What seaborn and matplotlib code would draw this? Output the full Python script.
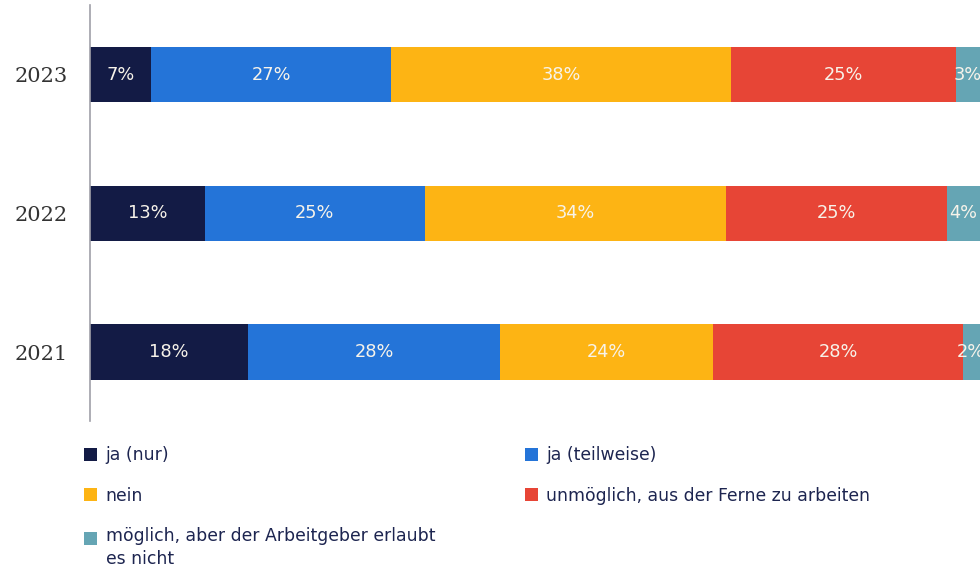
import matplotlib

matplotlib.use("Agg")
import matplotlib.pyplot as plt
import numpy as np
import pandas as pd
import seaborn as sns
from matplotlib.legend_handler import HandlerPatch
from matplotlib.patches import Patch, Rectangle

years = ["2023", "2022", "2021"]
categories = [
    "ja (nur)",
    "ja (teilweise)",
    "nein",
    "unmöglich, aus der Ferne zu arbeiten",
    "möglich, aber der Arbeitgeber erlaubt\nes nicht",
]
colors = ["#131b45", "#2474d8", "#fdb414", "#e74536", "#65a5b4"]

# segment widths (labels show the rounded values)
ja_nur = [6.85, 12.9, 17.75]
ja_teilweise = [26.97, 24.7, 28.3]
nein = [38.2, 33.8, 24.0]
unmoeglich = [25.3, 24.9, 28.0]
nicht_erlaubt = [2.7, 3.7, 1.9]
shown_labels = [
    [7, 27, 38, 25, 3],
    [13, 25, 34, 25, 4],
    [18, 28, 24, 28, 2],
]

series = [ja_nur, ja_teilweise, nein, unmoeglich, nicht_erlaubt]
values = np.array(series).T  # rows = years
cum = np.cumsum(values, axis=1)

df = pd.DataFrame(cum, columns=categories)
df["year"] = years


class TopAlignedPatch(HandlerPatch):
    """Square legend handle lined up with the first line of a wrapped label."""

    def __init__(self, shift=0.0):
        super().__init__()
        self.shift = shift

    def create_artists(self, legend, orig_handle, xdescent, ydescent,
                       width, height, fontsize, trans):
        p = Rectangle((-xdescent, -ydescent + self.shift * fontsize), width, height,
                      facecolor=orig_handle.get_facecolor(), edgecolor="none",
                      transform=trans)
        return [p]


sns.set_style("white")
fig = plt.figure(figsize=(9.8, 5.68), dpi=100)
ax = fig.add_axes([0.092, 0.258, 0.908, 0.733])

# stacked bars: draw cumulative totals from the right-most segment backwards
for i in range(len(categories) - 1, -1, -1):
    sns.barplot(
        data=df, x=categories[i], y="year", order=years, orient="h",
        color=colors[i], width=0.4, linewidth=0, saturation=1, ax=ax,
    )

for row in range(len(years)):
    for j in range(len(categories)):
        left = cum[row, j] - values[row, j]
        ax.text(
            left + values[row, j] / 2, row, f"{shown_labels[row][j]}%",
            ha="center", va="center", color="#f7f3ea", fontsize=12.8,
            family="DejaVu Sans",
        )

ax.set_xlim(0, 100)
ax.set_ylim(2.5, -0.5)
ax.set_xlabel("")
ax.set_ylabel("")
ax.set_xticks([])
for side in ["top", "right", "bottom"]:
    ax.spines[side].set_visible(False)
ax.spines["left"].set_color("#a0a0a8")
ax.spines["left"].set_linewidth(1.2)
ax.tick_params(axis="y", length=0, pad=16)
for lbl in ax.get_yticklabels():
    lbl.set_family("DejaVu Serif")
    lbl.set_fontsize(15)
    lbl.set_color("#333333")

# legend in two columns, filled column-wise
order = [0, 2, 4, 1, 3]
handles = [Patch(facecolor=colors[k], edgecolor="none") for k in order]
labels = [categories[k] for k in order]
leg = fig.legend(
    handles, labels, ncol=2, loc="upper left", bbox_to_anchor=(0.07, 0.2415),
    frameon=False, fontsize=12.4, handlelength=0.75, handleheight=0.75,
    handletextpad=0.5, columnspacing=5.2, labelspacing=1.3,
    labelcolor="#1d2550",
    handler_map={handles[2]: TopAlignedPatch(shift=0.6)},
)
for t in leg.get_texts():
    t.set_linespacing(1.35)

fig.savefig("out.png", dpi=100)
